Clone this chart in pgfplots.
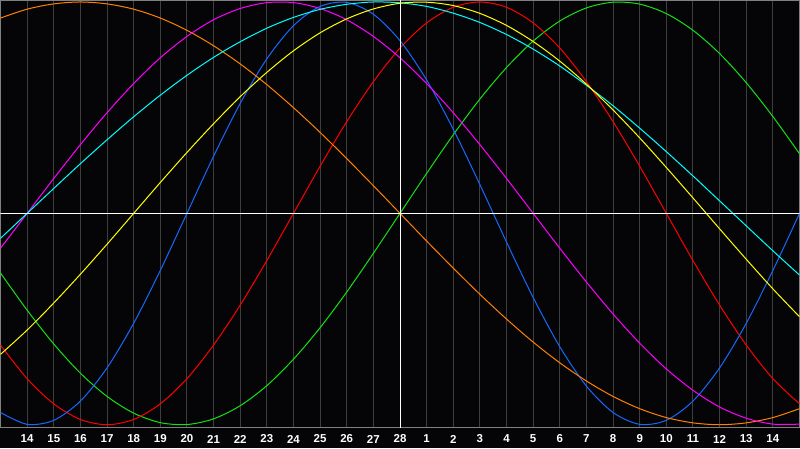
\documentclass[border=0pt]{standalone}
\usepackage{fontspec}
\setmainfont{Liberation Sans}
\usepackage{pgfplots}
\usepackage{pgfplotstable}
\pgfplotsset{compat=1.18}

\definecolor{bg}{RGB}{5,5,8}
\definecolor{gridgrey}{RGB}{62,62,62}
\definecolor{framegrey}{RGB}{128,128,128}
\definecolor{cblue}{RGB}{20,105,255}
\definecolor{cred}{RGB}{255,0,0}
\definecolor{cgreen}{RGB}{20,225,20}
\definecolor{cmagenta}{RGB}{255,0,255}
\definecolor{cyellow}{RGB}{255,255,0}
\definecolor{corange}{RGB}{255,128,0}
\definecolor{ccyan}{RGB}{0,255,255}

% days relative to the centre day (28), one value per day for each cycle
\pgfplotstableread{
t   blue   red    green  magenta yellow orange cyan
-15 -0.942 -0.623 -0.282 -0.165 -0.667  0.924 -0.118
-14 -0.998 -0.782 -0.458  0.000 -0.552  0.966  0.000
-13 -0.979 -0.901 -0.618  0.165 -0.424  0.991  0.118
-12 -0.888 -0.975 -0.756  0.325 -0.288  1.000  0.235
-11 -0.731 -1.000 -0.866  0.476 -0.146  0.991  0.348
-10 -0.520 -0.975 -0.945  0.614  0.000  0.966  0.457
-9  -0.270 -0.901 -0.990  0.736  0.146  0.924  0.559
-8   0.000 -0.782 -0.999  0.837  0.288  0.866  0.653
-7   0.270 -0.623 -0.972  0.916  0.424  0.793  0.738
-6   0.520 -0.434 -0.910  0.969  0.552  0.707  0.812
-5   0.731 -0.223 -0.815  0.997  0.667  0.609  0.876
-4   0.888  0.000 -0.690  0.997  0.769  0.500  0.927
-3   0.979  0.223 -0.541  0.969  0.854  0.383  0.965
-2   0.998  0.434 -0.372  0.916  0.920  0.259  0.989
-1   0.942  0.623 -0.189  0.837  0.967  0.131  1.000
0    0.817  0.782  0.000  0.736  0.994  0.000  0.996
1    0.631  0.901  0.189  0.614  0.999 -0.131  0.979
2    0.398  0.975  0.372  0.476  0.983 -0.259  0.947
3    0.136  1.000  0.541  0.325  0.946 -0.383  0.903
4   -0.136  0.975  0.690  0.165  0.889 -0.500  0.846
5   -0.398  0.901  0.815  0.000  0.813 -0.609  0.777
6   -0.631  0.782  0.910 -0.165  0.720 -0.707  0.697
7   -0.817  0.623  0.972 -0.325  0.611 -0.793  0.606
8   -0.942  0.434  0.999 -0.476  0.489 -0.866  0.509
9   -0.998  0.223  0.990 -0.614  0.357 -0.924  0.403
10  -0.979  0.000  0.945 -0.736  0.217 -0.966  0.292
11  -0.888 -0.223  0.866 -0.837  0.073 -0.991  0.177
12  -0.731 -0.434  0.756 -0.916 -0.073 -1.000  0.059
13  -0.520 -0.623  0.618 -0.969 -0.217 -0.991 -0.059
14  -0.270 -0.782  0.458 -0.997 -0.357 -0.966 -0.177
15   0.000 -0.901  0.282 -0.997 -0.489 -0.924 -0.292
}\cycles

\begin{document}
\begin{tikzpicture}
\path[use as bounding box, fill=bg] (0,0) rectangle (800pt,448pt);
\begin{axis}[
  at={(0.5pt,20.5pt)}, anchor=south west,
  scale only axis, width=799pt, height=427pt,
  xmin=-15, xmax=15, ymin=-1.013, ymax=1.007,
  axis line style={framegrey, line width=1pt},
  xtick={-14,...,14},
  xticklabels={14,15,16,17,18,19,20,21,22,23,24,25,26,27,28,1,2,3,4,5,6,7,8,9,10,11,12,13,14},
  ytick=\empty,
  major tick length=0pt,
  xmajorgrids,
  major grid style={gridgrey, line width=1pt},
  xticklabel style={font=\fontsize{11.5}{12}\selectfont\bfseries, text=white,
    anchor=center, yshift=-11.5pt, inner sep=0pt},
  every axis plot/.append style={line width=1pt, smooth, no markers},
]
\addplot[cgreen]   table[x=t, y=green]   {\cycles};
\addplot[cred]     table[x=t, y=red]     {\cycles};
\addplot[cblue]    table[x=t, y=blue]    {\cycles};
\addplot[corange]  table[x=t, y=orange]  {\cycles};
\addplot[cmagenta] table[x=t, y=magenta] {\cycles};
\addplot[ccyan]    table[x=t, y=cyan]    {\cycles};
\addplot[cyellow]  table[x=t, y=yellow]  {\cycles};
% centre lines
\addplot[white, sharp plot] coordinates {(-15,0) (15,0)};
\addplot[white, sharp plot] coordinates {(0,-1.013) (0,1.007)};
\end{axis}
\end{tikzpicture}
\end{document}
